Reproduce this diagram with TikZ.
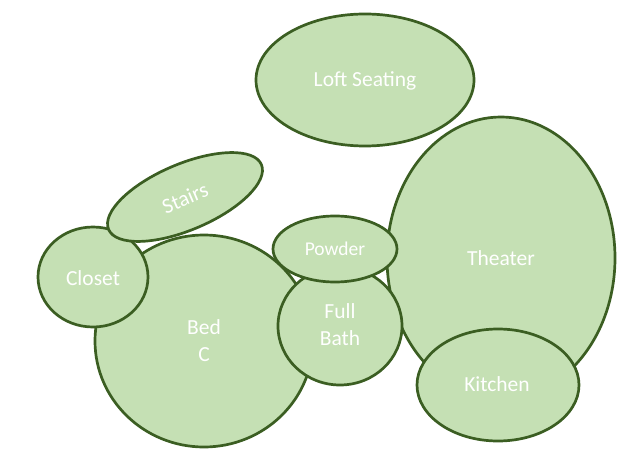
\documentclass[tikz,border=0pt]{standalone}
\usepackage{fontspec}
\setmainfont{Carlito}
\begin{document}
\begin{tikzpicture}[x=1pt,y=-1pt,
  room/.style={draw=roomline,fill=roomfill,line width=2.7pt},
  lbl/.style={text=white,font=\fontsize{21.5}{27}\selectfont,align=center,inner sep=0pt}]
\definecolor{roomline}{HTML}{3B5E22}
\definecolor{roomfill}{HTML}{C5E0B4}
\useasboundingbox (0,0) rectangle (639,465);
\draw[room] (365,80) ellipse [x radius=109, y radius=66];
\node[lbl] (loft) at (365,81) {Loft Seating};
\draw[room] (501,258) ellipse [x radius=114, y radius=141];
\node[lbl] (theater) at (501,258) {Theater};
\draw[room] (204,341) ellipse [x radius=109, y radius=106];
\node[lbl] (bed) at (204,341) {Bed\\C};
\draw[room] (93,277) ellipse [x radius=55, y radius=50];
\node[lbl] (closet) at (93,278) {Closet};
\draw[room,rotate around={23:(185,197)}] (185,197) ellipse [x radius=83, y radius=33];
\node[lbl,rotate=23] (stairs) at (185,198) {Stairs};
\draw[room] (340,326) ellipse [x radius=62, y radius=59];
\node[lbl] (bath) at (340,325) {Full\\Bath};
\draw[room] (335,249) ellipse [x radius=62, y radius=33];
\node[lbl,font=\fontsize{19.5}{24}\selectfont] (powder) at (335,249) {Powder};
\draw[room] (498,385) ellipse [x radius=81, y radius=56];
\node[lbl] (kitchen) at (497,384) {Kitchen};
\end{tikzpicture}
\end{document}
